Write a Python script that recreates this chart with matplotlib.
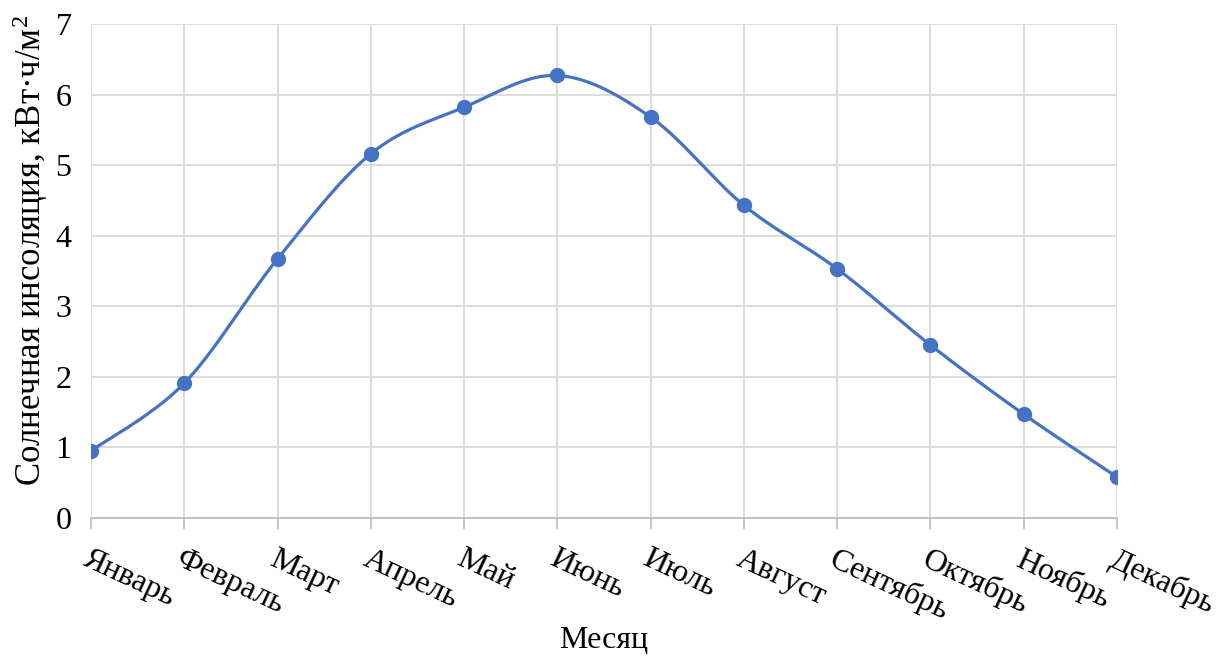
import numpy as np
import matplotlib
matplotlib.use("Agg")
import matplotlib.pyplot as plt

plt.rcParams['font.family'] = ['Liberation Serif', 'DejaVu Serif']
plt.rcParams['mathtext.fontset'] = 'custom'
plt.rcParams['mathtext.rm'] = 'Liberation Serif'
plt.rcParams['mathtext.it'] = 'Liberation Serif:italic'
plt.rcParams['mathtext.bf'] = 'Liberation Serif:bold'

months = ["Январь", "Февраль", "Март", "Апрель", "Май", "Июнь",
          "Июль", "Август", "Сентябрь", "Октябрь", "Ноябрь", "Декабрь"]
insolation = [0.95, 1.91, 3.67, 5.16, 5.82, 6.27, 5.68, 4.43, 3.53, 2.45, 1.47, 0.58]


def smooth_curve(x, y, n=40):
    # Bezier segments with Catmull-Rom style control points (like Excel's smoothed line)
    x = np.asarray(x, float)
    y = np.asarray(y, float)
    px = np.concatenate([[x[0]], x, [x[-1]]])
    py = np.concatenate([[y[0]], y, [y[-1]]])
    xs, ys = [], []
    t = np.linspace(0, 1, n)
    for i in range(len(x) - 1):
        p0 = np.array([px[i + 1], py[i + 1]])
        p3 = np.array([px[i + 2], py[i + 2]])
        c1 = p0 + (np.array([px[i + 2], py[i + 2]]) - np.array([px[i], py[i]])) / 6
        c2 = p3 - (np.array([px[i + 3], py[i + 3]]) - np.array([px[i + 1], py[i + 1]])) / 6
        seg = ((1 - t) ** 3)[:, None] * p0 + (3 * (1 - t) ** 2 * t)[:, None] * c1 \
            + (3 * (1 - t) * t ** 2)[:, None] * c2 + (t ** 3)[:, None] * p3
        xs.extend(seg[:, 0])
        ys.extend(seg[:, 1])
    return np.array(xs), np.array(ys)


fig = plt.figure(figsize=(12.24, 6.57), dpi=100)
ax = fig.add_axes([0.0743, 0.2116, 0.9126 - 0.0743, 0.9635 - 0.2116])

xpos = np.arange(len(months))
sx, sy = smooth_curve(xpos, insolation)
ax.plot(sx, sy, color='#4472C4', linewidth=2.3, solid_capstyle='round', zorder=3)
ax.plot(xpos, insolation, 'o', color='#4472C4', markersize=10, zorder=4)

ax.set_xlim(0, len(months) - 1)
ax.set_ylim(0, 7)
ax.set_yticks(range(8))
ax.set_xticks(xpos)
ax.set_xticklabels(months, rotation=-25, ha='left', va='top', rotation_mode='anchor')

ax.grid(True, color='#D9D9D9', linewidth=1.3)
ax.set_axisbelow(True)
for s in ['top', 'right', 'left']:
    ax.spines[s].set_visible(False)
ax.spines['bottom'].set_color('#BFBFBF')
ax.spines['bottom'].set_linewidth(1.3)

ax.tick_params(axis='x', length=8, width=1.3, color='#BFBFBF', labelsize=23, pad=11)
ax.tick_params(axis='y', length=0, labelsize=23, pad=14)

ax.set_xlabel("Месяц", fontsize=23, labelpad=0)
ax.set_ylabel("Солнечная инсоляция, кВт·ч/м$^2$", fontsize=25)
ax.yaxis.set_label_coords(-0.04, 0.5425)

fig.savefig("out.png", dpi=100, facecolor='white')
